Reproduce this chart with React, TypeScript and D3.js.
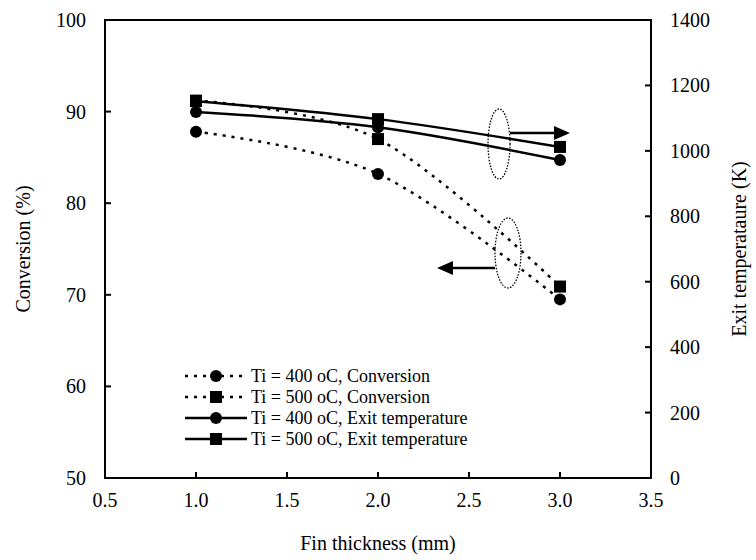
import React from 'react';
import * as d3 from 'd3';

// fin thickness (mm)
const thickness = [1.0, 2.0, 3.0];
// conversion (%), left axis
const conv400 = [87.8, 83.2, 69.5];
const conv500 = [91.2, 87.0, 70.9];
// exit temperature (K), right axis
const temp400 = [1119, 1072, 972];
const temp500 = [1152, 1097, 1012];

const xTicks = [0.5, 1.0, 1.5, 2.0, 2.5, 3.0, 3.5];
const yTicks = [50, 60, 70, 80, 90, 100];
const y2Ticks = [0, 200, 400, 600, 800, 1000, 1200, 1400];

const legendItems = [
  { label: 'Ti = 400 oC, Conversion', dashed: true, marker: 'circle' },
  { label: 'Ti = 500 oC, Conversion', dashed: true, marker: 'square' },
  { label: 'Ti = 400 oC, Exit temperature', dashed: false, marker: 'circle' },
  { label: 'Ti = 500 oC, Exit temperature', dashed: false, marker: 'square' },
];

const W = 756, H = 560;
const L = 105, R = 651, T = 20, B = 478;
const FONT = 'Liberation Serif';
const DASH = '3,6';

const Marker = ({ kind, x, y }: { kind: string; x: number; y: number }) =>
  kind === 'circle'
    ? <circle cx={x} cy={y} r={6} fill="#000" />
    : <rect x={x - 6} y={y - 6} width={12} height={12} fill="#000" />;

const Txt = (props: any) => <text fontFamily={FONT} fill="#000" {...props} />;

export default function App() {
  const x = d3.scaleLinear().domain([0.5, 3.5]).range([L, R]);
  const y = d3.scaleLinear().domain([50, 100]).range([B, T]);
  const y2 = d3.scaleLinear().domain([0, 1400]).range([B, T]);

  const line = (ys: number[], sc: d3.ScaleLinear<number, number>) =>
    d3.line<number>()
      .x((_, i) => x(thickness[i]))
      .y(v => sc(v))
      .curve(d3.curveCardinal.tension(0))(ys) as string;

  const series = [
    { vals: conv400, sc: y, dashed: true, marker: 'circle' },
    { vals: conv500, sc: y, dashed: true, marker: 'square' },
    { vals: temp400, sc: y2, dashed: false, marker: 'circle' },
    { vals: temp500, sc: y2, dashed: false, marker: 'square' },
  ];

  const legY0 = 376, legDy = 21;

  return (
    <svg width={W} height={H} style={{ display: 'block', position: 'absolute', left: 0, top: 0 }}>
      <rect width={W} height={H} fill="#fff" />

      {/* frame */}
      <rect x={L} y={T} width={R - L} height={B - T} fill="none" stroke="#000" strokeWidth={2} />

      {/* ticks */}
      {xTicks.map(t => (
        <g key={'x' + t}>
          <line x1={x(t)} x2={x(t)} y1={B} y2={B - 6} stroke="#000" strokeWidth={2} />
          <Txt x={x(t)} y={507} textAnchor="middle" fontSize={20}>{t.toFixed(1)}</Txt>
        </g>
      ))}
      {yTicks.map(t => (
        <g key={'y' + t}>
          <line x1={L} x2={L + 6} y1={y(t)} y2={y(t)} stroke="#000" strokeWidth={2} />
          <Txt x={86} y={y(t) + 7} textAnchor="end" fontSize={20}>{t}</Txt>
        </g>
      ))}
      {y2Ticks.map(t => (
        <g key={'y2' + t}>
          <line x1={R} x2={R - 6} y1={y2(t)} y2={y2(t)} stroke="#000" strokeWidth={2} />
          <Txt x={670} y={y2(t) + 7} textAnchor="start" fontSize={20}>{t}</Txt>
        </g>
      ))}

      <Txt x={(L + R) / 2} y={550} textAnchor="middle" fontSize={20}>Fin thickness (mm)</Txt>
      <Txt transform={`translate(30,${(T + B) / 2}) rotate(-90)`} textAnchor="middle" fontSize={20}>Conversion (%)</Txt>
      <Txt transform={`translate(746,${(T + B) / 2}) rotate(-90)`} textAnchor="middle" fontSize={20}>Exit temperataure (K)</Txt>

      {/* series */}
      {series.map((s, i) => (
        <path key={'l' + i} d={line(s.vals, s.sc)} fill="none" stroke="#000"
          strokeWidth={2.5} strokeDasharray={s.dashed ? DASH : undefined} />
      ))}
      {series.map((s, i) => s.vals.map((v, j) => (
        <Marker key={`m${i}-${j}`} kind={s.marker} x={x(thickness[j])} y={s.sc(v)} />
      )))}

      {/* ellipses + arrows */}
      <ellipse cx={499} cy={144} rx={11} ry={35} fill="none" stroke="#000" strokeWidth={1.3} strokeDasharray="1.5,1.5" />
      <line x1={510} x2={556} y1={133} y2={133} stroke="#000" strokeWidth={2.5} />
      <path d="M554,126 L570,133 L554,140 Z" fill="#000" />
      <ellipse cx={508} cy={253} rx={13} ry={35} fill="none" stroke="#000" strokeWidth={1.3} strokeDasharray="1.5,1.5" />
      <line x1={495} x2={450} y1={268} y2={268} stroke="#000" strokeWidth={2.5} />
      <path d="M453,261 L437,268 L453,275 Z" fill="#000" />

      {/* legend */}
      {legendItems.map((d, i) => {
        const ly = legY0 + i * legDy;
        return (
          <g key={'leg' + i}>
            <line x1={185} x2={247} y1={ly} y2={ly} stroke="#000" strokeWidth={2.5}
              strokeDasharray={d.dashed ? DASH : undefined} />
            <Marker kind={d.marker} x={216} y={ly} />
            <Txt x={251} y={ly + 6} fontSize={18}>{d.label}</Txt>
          </g>
        );
      })}
    </svg>
  );
}
